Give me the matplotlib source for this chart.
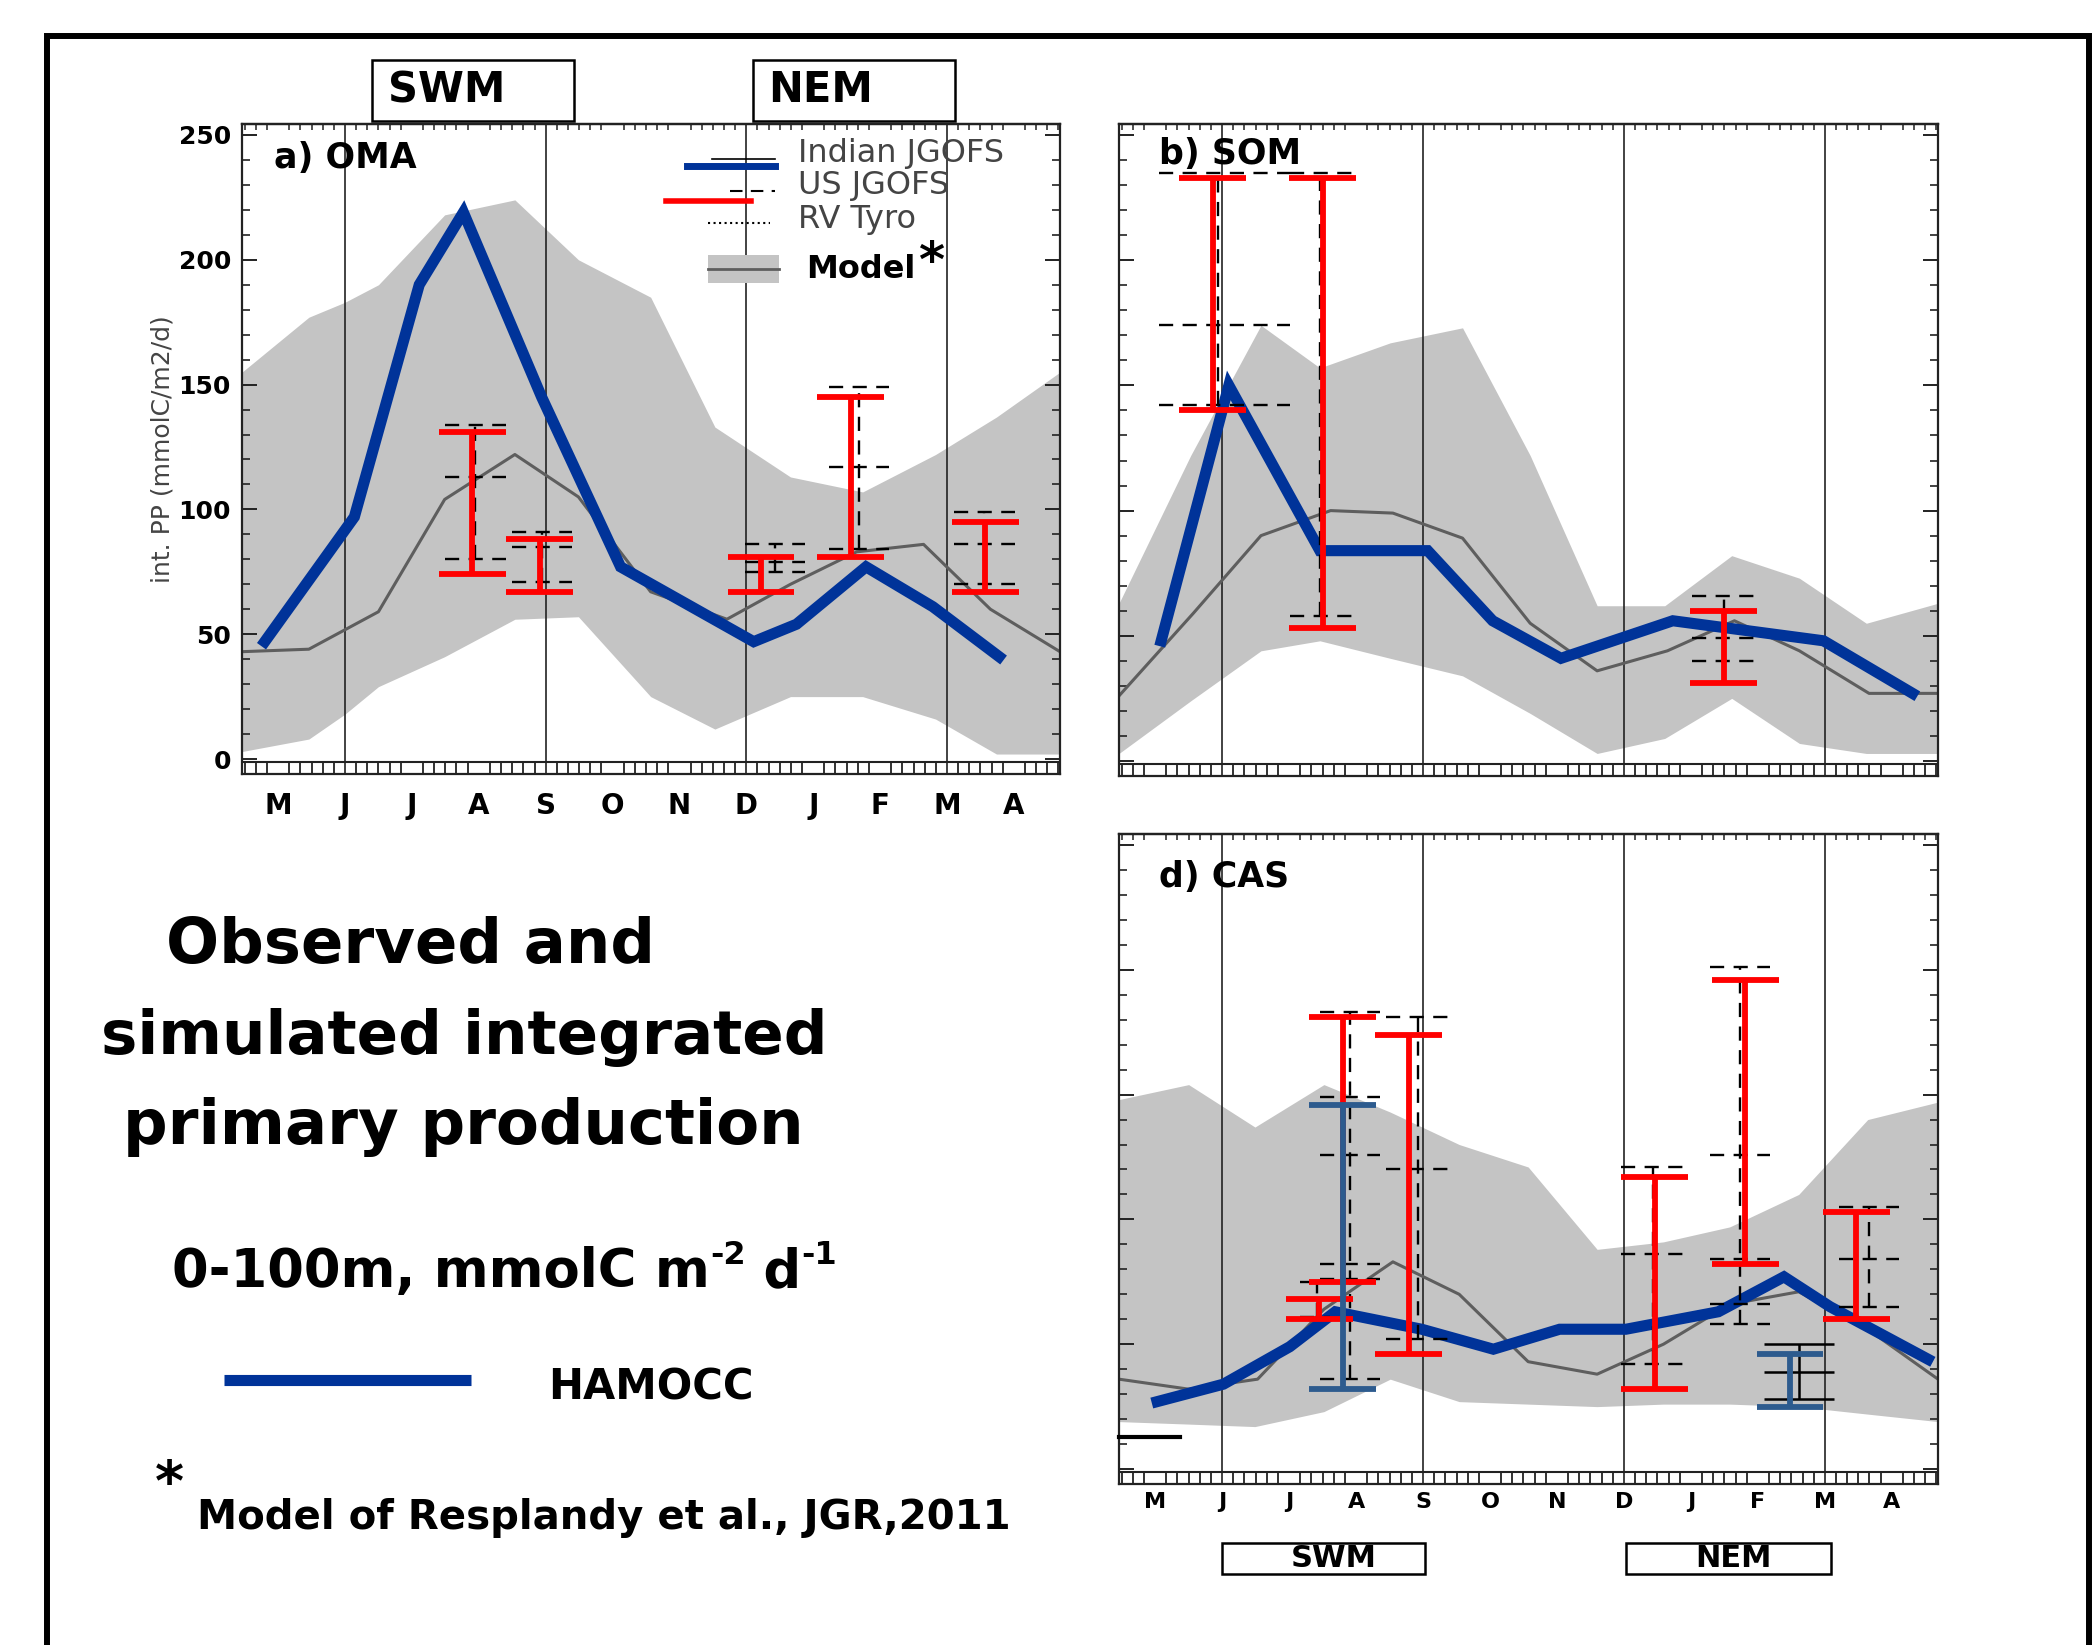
import matplotlib
matplotlib.use("Agg")
import matplotlib.pyplot as plt
from matplotlib.patches import Rectangle
from matplotlib.lines import Line2D
import numpy as np

plt.rcParams['font.family'] = ['DejaVu Sans', 'Liberation Sans']

# ---------------- data ----------------
months = ['M', 'J', 'J', 'A', 'S', 'O', 'N', 'D', 'J', 'F', 'M', 'A']
month_pos = list(range(12))
season_lines = [1, 4, 7, 10]
yticks = [0, 50, 100, 150, 200, 250]

# panel a) OMA
a_ham_x = [-0.2, 1.14, 2.11, 2.77, 3.94, 5.12, 7.11, 7.75, 8.79, 9.79, 10.78]
a_ham_y = [47, 97, 190, 219, 145, 77, 47, 54, 77, 61, 41]
a_band_x = [-0.54, 0.46, 1.0, 1.5, 2.49, 3.54, 4.49, 5.57, 6.53, 7.66, 8.74, 9.83, 10.74, 11.69]
a_band_hi = [155, 177, 183, 190, 218, 224, 200, 185, 133, 113, 107, 122, 137, 155]
a_band_lo = [3, 8, 18, 29, 41, 56, 57, 25, 12, 25, 25, 16, 2, 2]
a_mean_x = [-0.54, 0.46, 1.5, 2.49, 3.54, 4.49, 5.57, 6.71, 7.66, 8.65, 9.65, 10.65, 11.69]
a_mean_y = [43, 44, 59, 104, 122, 105, 67, 56, 70, 83, 86, 60, 43]
a_red_x = [2.90, 3.91, 7.22, 8.56, 10.57]
a_red_lo = [74, 67, 67, 81, 67]
a_red_hi = [131, 88, 81, 145, 95]
a_dash_x = [2.95, 3.94, 7.43, 8.68, 10.56]
a_dash_vals = [[80, 113, 134], [71, 85, 91], [75, 79, 86], [84, 117, 149], [70, 86, 99]]

# panel b) SOM
b_ham_x = [0.09, 1.10, 2.46, 4.07, 5.04, 6.06, 7.73, 9.98, 11.31]
b_ham_y = [48, 150, 84, 84, 56, 41, 56, 48, 27]
b_band_x = [-0.54, 0.53, 1.58, 2.46, 3.51, 4.59, 5.60, 6.60, 7.61, 8.61, 9.62, 10.62, 11.69]
b_band_hi = [63, 122, 174, 157, 167, 173, 122, 62, 62, 82, 73, 55, 63]
b_band_lo = [3, 24, 44, 48, 41, 34, 19, 3, 9, 25, 7, 3, 3]
b_mean_x = [-0.54, 0.57, 1.58, 2.62, 3.55, 4.59, 5.60, 6.60, 7.65, 8.65, 9.62, 10.66, 11.69]
b_mean_y = [26, 59, 90, 100, 99, 89, 55, 36, 44, 56, 44, 27, 27]
b_red_x = [0.86, 2.50, 8.49]
b_red_lo = [140, 53, 31]
b_red_hi = [233, 233, 60]
b_dash_x = [0.94, 2.46, 8.49]
b_dash_vals = [[142, 174, 235], [58, 235], [40, 49, 66]]

# panel d) CAS
d_ham_x = [0.03, 1.02, 2.01, 2.69, 3.98, 5.05, 6.04, 7.03, 8.41, 9.39, 10.08, 11.54]
d_ham_y = [27, 34, 49, 63, 56, 48, 56, 56, 63, 77, 65, 44]
d_band_x = [-0.54, 0.50, 1.49, 2.52, 3.51, 4.54, 5.57, 6.60, 7.59, 8.58, 9.61, 10.64, 11.69]
d_band_hi = [148, 154, 137, 154, 143, 130, 121, 88, 91, 97, 110, 140, 147]
d_band_lo = [19, 18, 17, 23, 36, 27, 26, 25, 26, 26, 25, 22, 19]
d_mean_x = [-0.54, 0.50, 1.53, 2.52, 3.55, 4.54, 5.57, 6.60, 7.59, 8.58, 9.61, 10.64, 11.69]
d_mean_y = [36, 32, 36, 64, 83, 70, 43, 38, 50, 66, 71, 56, 36]
d_red_x = [2.45, 2.80, 3.79, 7.46, 8.81, 10.47]
d_red_lo = [60, 75, 46, 32, 82, 60]
d_red_hi = [68, 181, 174, 117, 196, 103]
d_blue_x = [2.80, 9.48]
d_blue_lo = [32, 25]
d_blue_hi = [146, 46]
d_dash_x = [2.91, 2.41, 3.92, 7.43, 8.73, 10.66]
d_dash_vals = [[36, 76, 82, 126, 149, 183], [61, 75], [52, 120, 181], [42, 86, 121],
               [58, 66, 84, 126, 201], [65, 84, 105]]
d_solid_x = [9.61]
d_solid_vals = [[28, 39, 50]]
d_stub_x = [-0.54, 0.37]
d_stub_y = [13, 13]

# ---------------- styles ----------------
W, H = 2099, 1645
BLUE = '#003399'
RED = '#ff0000'
STEEL = '#2d5b8e'
BAND = '#c4c4c4'
MEAN = '#5e5e5e'
XLIM = (-0.54, 11.69)
YLIM = (-6, 254.4)
DASH = (0, (6, 4))

fig = plt.figure(figsize=(W / 100, H / 100), dpi=100)
fig.patch.set_facecolor('white')


def fx(px):
    return px / W


def fy(py):
    return 1 - py / H


def make_ax(l, r, t, b):
    return fig.add_axes([fx(l), fy(b), (r - l) / W, (b - t) / H])


minor_pos = [m + k / 6 for m in range(-1, 12) for k in range(1, 6)
             if XLIM[0] < m + k / 6 < XLIM[1]]


def style_panel(ax, month_fs, month_pad, ylabels):
    ax.set_xlim(*XLIM)
    ax.set_ylim(*YLIM)
    for s in ax.spines.values():
        s.set_linewidth(1.6)
        s.set_color('#222222')
    ax.set_xticks(month_pos)
    if month_fs:
        ax.set_xticklabels(months, fontsize=month_fs, fontweight='bold')
    else:
        ax.set_xticklabels([])
    ax.tick_params(axis='x', which='major', length=0, pad=month_pad)
    ax.set_xticks(minor_pos, minor=True)
    ax.tick_params(axis='x', which='minor', direction='in', length=9.5,
                   width=1.3, bottom=True, top=False, color='#222222')
    ax.axhline(-1.2, color='#222222', lw=1.5, zorder=6)
    sec = ax.secondary_xaxis('top')
    sec.set_xticks(minor_pos)
    sec.tick_params(axis='x', direction='in', length=4.5, width=1.1,
                    labeltop=False, color='#222222')
    sec.spines['top'].set_linewidth(1.6)
    ax.set_yticks(yticks)
    ax.set_yticks(range(0, 251, 10), minor=True)
    ax.tick_params(axis='y', which='major', direction='in', length=11,
                   width=1.4, left=True, right=True, color='#222222',
                   labelsize=18, pad=8)
    ax.tick_params(axis='y', which='minor', direction='in', length=5.5,
                   width=1.2, left=True, right=True, color='#222222')
    if ylabels:
        for lbl in ax.get_yticklabels():
            lbl.set_fontweight('bold')
    else:
        ax.set_yticklabels([])
    for s in season_lines:
        ax.axvline(s, color='#222222', lw=1.2, zorder=1.5)


def draw_model(ax, bx, lo, hi, mx, my):
    ax.fill_between(bx, lo, hi, color=BAND, lw=0, zorder=1)
    ax.plot(mx, my, color=MEAN, lw=2.2, zorder=2)


def draw_bars(ax, xs, lo, hi, color, hw=0.5, lw=4.2, z=5):
    xs = np.asarray(xs, float)
    ax.vlines(xs, lo, hi, colors=color, lw=lw, zorder=z)
    ax.hlines(lo, xs - hw, xs + hw, colors=color, lw=lw, zorder=z)
    ax.hlines(hi, xs - hw, xs + hw, colors=color, lw=lw, zorder=z)


def draw_groups(ax, xs, groups, hl, hr, ls=DASH, color='black', lw=1.7, z=4):
    for x, vals, l, r in zip(xs, groups, hl, hr):
        ax.vlines(x, min(vals), max(vals), colors=color, lw=lw, linestyles=[ls], zorder=z)
        ax.hlines(vals, x - l, x + r, colors=color, lw=lw, linestyles=[ls], zorder=z)


# ---------------- panel a ----------------
ax_a = make_ax(242, 1060, 124, 774)
style_panel(ax_a, 20, 13, True)
draw_model(ax_a, a_band_x, a_band_lo, a_band_hi, a_mean_x, a_mean_y)
ax_a.plot(a_ham_x, a_ham_y, color=BLUE, lw=8, zorder=3, solid_joinstyle='miter')
draw_groups(ax_a, a_dash_x, a_dash_vals, [0.45] * 5, [0.45] * 5)
draw_bars(ax_a, a_red_x, a_red_lo, a_red_hi, RED)
ax_a.set_ylabel('int. PP (mmolC/m2/d)', fontsize=18, color='#444444')
ax_a.yaxis.set_label_coords(-0.083, 0.5)
ax_a.text(0.039, 0.948, 'a) OMA', transform=ax_a.transAxes, fontsize=25,
          fontweight='bold', va='center', ha='left', zorder=8)

# legend of panel a
T = ax_a.transAxes
ax_a.add_line(Line2D([0.574, 0.652], [0.946, 0.946], transform=T, color='black', lw=1.2, zorder=8))
ax_a.add_line(Line2D([0.544, 0.652], [0.935, 0.935], transform=T, color=BLUE, lw=5, zorder=8))
ax_a.add_line(Line2D([0.597, 0.652], [0.897, 0.897], transform=T, color='black', lw=1.5, ls=DASH, zorder=8))
ax_a.add_line(Line2D([0.518, 0.622], [0.881, 0.881], transform=T, color=RED, lw=4, zorder=8))
ax_a.add_line(Line2D([0.570, 0.645], [0.848, 0.848], transform=T, color='black', lw=1.5, ls=':', zorder=8))
ax_a.add_patch(Rectangle((0.570, 0.756), 0.086, 0.042, transform=T, color=BAND, lw=0, zorder=7))
ax_a.add_line(Line2D([0.570, 0.656], [0.777, 0.777], transform=T, color=MEAN, lw=2, zorder=8))
for txt, yy in [('Indian JGOFS', 0.955), ('US JGOFS', 0.905), ('RV Tyro', 0.853)]:
    ax_a.text(0.680, yy, txt, transform=T, fontsize=23, color='#444444',
              va='center', ha='left', zorder=8)
ax_a.text(0.690, 0.776, 'Model', transform=T, fontsize=23, fontweight='bold',
          va='center', ha='left', zorder=8)
ax_a.text(0.826, 0.786, '*', transform=T, fontsize=36, fontweight='bold',
          va='center', ha='left', zorder=8)

# ---------------- panel b ----------------
ax_b = make_ax(1119, 1938, 124, 776)
style_panel(ax_b, None, 0, False)
draw_model(ax_b, b_band_x, b_band_lo, b_band_hi, b_mean_x, b_mean_y)
ax_b.plot(b_ham_x, b_ham_y, color=BLUE, lw=8, zorder=3, solid_joinstyle='miter')
draw_groups(ax_b, b_dash_x, b_dash_vals, [0.89, 0.44, 0.48], [1.08, 0.49, 0.48])
draw_bars(ax_b, b_red_x, b_red_lo, b_red_hi, RED)
ax_b.text(0.049, 0.954, 'b) SOM', transform=ax_b.transAxes, fontsize=25,
          fontweight='bold', va='center', ha='left', zorder=8)

# ---------------- panel d ----------------
ax_d = make_ax(1119, 1938, 834, 1484)
style_panel(ax_d, 16, 6, False)
draw_model(ax_d, d_band_x, d_band_lo, d_band_hi, d_mean_x, d_mean_y)
ax_d.plot(d_ham_x, d_ham_y, color=BLUE, lw=8, zorder=3, solid_joinstyle='miter')
draw_groups(ax_d, d_dash_x, d_dash_vals, [0.45, 0.25, 0.47, 0.47, 0.45, 0.45],
            [0.45, 0.2, 0.47, 0.5, 0.45, 0.45])
draw_groups(ax_d, d_solid_x, d_solid_vals, [0.52], [0.52], ls='-', lw=1.8)
draw_bars(ax_d, d_red_x, d_red_lo, d_red_hi, RED)
draw_bars(ax_d, d_blue_x, d_blue_lo, d_blue_hi, STEEL, z=6)
ax_d.plot(d_stub_x, d_stub_y, color='black', lw=3, zorder=6, clip_on=False)
ax_d.text(0.049, 0.934, 'd) CAS', transform=ax_d.transAxes, fontsize=25,
          fontweight='bold', va='center', ha='left', zorder=8)

# ---------------- season boxes ----------------
def season_box(l, t, r, b, label, fs, tx, ha):
    fig.add_artist(Rectangle((fx(l), fy(b)), (r - l) / W, (b - t) / H,
                             transform=fig.transFigure, fill=False,
                             ec='black', lw=1.8))
    fig.text(fx(tx), fy((t + b) / 2), label, fontsize=fs, fontweight='bold',
             ha=ha, va='center')


season_box(372, 60, 574, 121, 'SWM', 30, 388, 'left')
season_box(753, 60, 955, 121, 'NEM', 30, 768, 'left')
season_box(1222, 1543, 1425, 1574, 'SWM', 22, 1334, 'center')
season_box(1626, 1543, 1831, 1574, 'NEM', 22, 1734, 'center')

# ---------------- left text block ----------------
fig.text(fx(166), fy(963), 'Observed and', fontsize=45, fontweight='bold', va='baseline')
fig.text(fx(101), fy(1054), 'simulated integrated', fontsize=44, fontweight='bold', va='baseline')
fig.text(fx(123), fy(1144), 'primary production', fontsize=45, fontweight='bold', va='baseline')

renderer = fig.canvas.get_renderer()
xcur = 172
base = 1287
for txt, sup in [('0-100m, mmolC m', False), ('-2', True), (' d', False), ('-1', True)]:
    fs = 23 if sup else 38
    yb = base - 23 if sup else base
    t = fig.text(fx(xcur), fy(yb), txt, fontsize=fs, fontweight='bold', va='baseline')
    xcur += t.get_window_extent(renderer).width

fig.add_artist(Line2D([fx(224), fx(471)], [fy(1380), fy(1380)], transform=fig.transFigure,
                      color=BLUE, lw=8, solid_capstyle='butt'))
fig.text(fx(548), fy(1399), 'HAMOCC', fontsize=30, fontweight='bold', va='baseline')
fig.text(fx(155), fy(1500), '*', fontsize=40, fontweight='bold', va='baseline')
fig.text(fx(197), fy(1529), 'Model of Resplandy et al., JGR,2011', fontsize=29,
         fontweight='bold', va='baseline')

# ---------------- outer border ----------------
fig.add_artist(Rectangle((fx(46.5), -0.05), (2089 - 46.5) / W, fy(36) + 0.05,
                         transform=fig.transFigure, fill=False, ec='black', lw=4.3))

fig.savefig('out.png', dpi=100, facecolor='white')
